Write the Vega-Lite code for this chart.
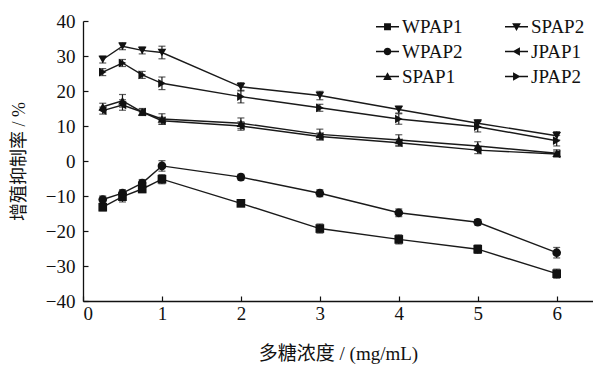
{
  "$schema": "https://vega.github.io/schema/vega-lite/v6.json",
  "width": 510,
  "height": 280,
  "autosize": {"type": "none"},
  "padding": {"left": 83, "top": 21, "right": 0, "bottom": 64},
  "background": "white",
  "config": {
    "view": {"stroke": null},
    "axis": {
      "grid": false,
      "domainColor": "#111",
      "domainWidth": 1.3,
      "tickColor": "#111",
      "tickWidth": 1.2,
      "tickSize": -5,
      "labelFont": "Liberation Serif",
      "labelFontSize": 19,
      "labelColor": "#111",
      "titleFont": "Liberation Serif, Noto Sans CJK SC",
      "titleFontWeight": "normal",
      "titleColor": "#111"
    }
  },
  "datasets": {
    "d": [
      {"x": 0.25, "series": "WPAP1", "y": -13.2, "err": 1.0},
      {"x": 0.5, "series": "WPAP1", "y": -10.2, "err": 1.5},
      {"x": 0.75, "series": "WPAP1", "y": -8.0, "err": 1.0},
      {"x": 1, "series": "WPAP1", "y": -5.2, "err": 1.3},
      {"x": 2, "series": "WPAP1", "y": -12.1, "err": 0.8},
      {"x": 3, "series": "WPAP1", "y": -19.3, "err": 1.3},
      {"x": 4, "series": "WPAP1", "y": -22.4, "err": 1.3},
      {"x": 5, "series": "WPAP1", "y": -25.2, "err": 1.2},
      {"x": 6, "series": "WPAP1", "y": -32.2, "err": 1.3},
      {"x": 0.25, "series": "WPAP2", "y": -11.0, "err": 1.0},
      {"x": 0.5, "series": "WPAP2", "y": -9.2, "err": 1.0},
      {"x": 0.75, "series": "WPAP2", "y": -6.3, "err": 1.0},
      {"x": 1, "series": "WPAP2", "y": -1.4, "err": 1.5},
      {"x": 2, "series": "WPAP2", "y": -4.6, "err": 0.8},
      {"x": 3, "series": "WPAP2", "y": -9.2, "err": 1.0},
      {"x": 4, "series": "WPAP2", "y": -14.8, "err": 1.1},
      {"x": 5, "series": "WPAP2", "y": -17.5, "err": 0.8},
      {"x": 6, "series": "WPAP2", "y": -26.2, "err": 1.5},
      {"x": 0.25, "series": "SPAP1", "y": 15.5, "err": 1.0},
      {"x": 0.5, "series": "SPAP1", "y": 17.2, "err": 1.8},
      {"x": 0.75, "series": "SPAP1", "y": 14.0, "err": 1.0},
      {"x": 1, "series": "SPAP1", "y": 12.0, "err": 1.5},
      {"x": 2, "series": "SPAP1", "y": 10.8, "err": 1.5},
      {"x": 3, "series": "SPAP1", "y": 7.6, "err": 1.5},
      {"x": 4, "series": "SPAP1", "y": 6.0, "err": 1.5},
      {"x": 5, "series": "SPAP1", "y": 4.3, "err": 1.2},
      {"x": 6, "series": "SPAP1", "y": 2.2, "err": 1.0},
      {"x": 0.25, "series": "JPAP1", "y": 14.4, "err": 1.0},
      {"x": 0.5, "series": "JPAP1", "y": 16.0, "err": 1.5},
      {"x": 0.75, "series": "JPAP1", "y": 14.0, "err": 0.8},
      {"x": 1, "series": "JPAP1", "y": 11.5, "err": 1.0},
      {"x": 2, "series": "JPAP1", "y": 10.0, "err": 1.2},
      {"x": 3, "series": "JPAP1", "y": 7.0, "err": 1.0},
      {"x": 4, "series": "JPAP1", "y": 5.2, "err": 1.0},
      {"x": 5, "series": "JPAP1", "y": 3.1, "err": 1.0},
      {"x": 6, "series": "JPAP1", "y": 2.0, "err": 0.8},
      {"x": 0.25, "series": "SPAP2", "y": 29.0, "err": 1.0},
      {"x": 0.5, "series": "SPAP2", "y": 32.8, "err": 1.0},
      {"x": 0.75, "series": "SPAP2", "y": 31.6, "err": 1.0},
      {"x": 1, "series": "SPAP2", "y": 31.0, "err": 1.8},
      {"x": 2, "series": "SPAP2", "y": 21.2, "err": 1.2},
      {"x": 3, "series": "SPAP2", "y": 18.7, "err": 1.2},
      {"x": 4, "series": "SPAP2", "y": 14.7, "err": 1.0},
      {"x": 5, "series": "SPAP2", "y": 10.8, "err": 1.0},
      {"x": 6, "series": "SPAP2", "y": 7.2, "err": 1.2},
      {"x": 0.25, "series": "JPAP2", "y": 25.4, "err": 1.0},
      {"x": 0.5, "series": "JPAP2", "y": 28.0, "err": 1.0},
      {"x": 0.75, "series": "JPAP2", "y": 24.6, "err": 1.0},
      {"x": 1, "series": "JPAP2", "y": 22.2, "err": 1.8},
      {"x": 2, "series": "JPAP2", "y": 18.4, "err": 1.8},
      {"x": 3, "series": "JPAP2", "y": 15.2, "err": 1.0},
      {"x": 4, "series": "JPAP2", "y": 12.0, "err": 1.5},
      {"x": 5, "series": "JPAP2", "y": 9.8, "err": 1.5},
      {"x": 6, "series": "JPAP2", "y": 5.8, "err": 1.5}
    ]
  },
  "data": {"name": "d"},
  "encoding": {
    "x": {
      "field": "x", "type": "quantitative",
      "scale": {"domain": [0, 6.46], "nice": false, "zero": false},
      "axis": {"values": [0, 1, 2, 3, 4, 5, 6], "title": "多糖浓度 / (mg/mL)", "titleFontSize": 19, "titlePadding": 21, "labelPadding": 8}
    },
    "y": {
      "field": "y", "type": "quantitative",
      "scale": {"domain": [-40, 40], "nice": false},
      "axis": {"values": [-40, -30, -20, -10, 0, 10, 20, 30, 40], "title": "增殖抑制率 / %", "titleFontSize": 18, "titlePadding": 17, "labelPadding": 13}
    }
  },
  "layer": [
    {
      "mark": {"type": "line", "color": "#1a1a1a", "strokeWidth": 1.4},
      "encoding": {"detail": {"field": "series"}}
    },
    {
      "mark": {"type": "errorbar", "color": "#1a1a1a", "thickness": 1.2, "ticks": {"size": 7, "thickness": 1.2, "color": "#1a1a1a"}},
      "encoding": {"yError": {"field": "err"}, "detail": {"field": "series"}}
    },
    {
      "mark": {"type": "point", "filled": true, "color": "#111", "opacity": 1, "size": 75},
      "encoding": {
        "shape": {
          "field": "series",
          "scale": {
            "domain": ["WPAP1", "WPAP2", "SPAP1", "SPAP2", "JPAP1", "JPAP2"],
            "range": ["square", "circle", "triangle-up", "triangle-down", "triangle-left", "triangle-right"]
          },
          "legend": null
        }
      }
    },
    {
      "transform": [{"filter": "false"}],
      "mark": {"type": "point", "filled": true, "color": "#111", "opacity": 1},
      "encoding": {
        "shape": {
          "field": "series",
          "scale": {
            "domain": ["WPAP1", "WPAP2", "SPAP1", "SPAP2", "JPAP1", "JPAP2"],
            "range": [
              "M-1,-0.055H1V0.055H-1ZM-0.3,-0.3H0.3V0.3H-0.3Z",
              "M-1,-0.055H1V0.055H-1ZM0.33,0A0.33,0.33 0 1,1 -0.33,0A0.33,0.33 0 1,1 0.33,0Z",
              "M-1,-0.055H1V0.055H-1ZM0,-0.36L0.38,0.3H-0.38Z",
              "M-1,-0.055H1V0.055H-1ZM0,0.36L-0.38,-0.3H0.38Z",
              "M-1,-0.055H1V0.055H-1ZM-0.36,0L0.3,-0.38V0.38Z",
              "M-1,-0.055H1V0.055H-1ZM0.36,0L-0.3,0.38V-0.38Z"
            ]
          },
          "legend": {
            "title": null,
            "orient": "none",
            "legendX": 293,
            "legendY": -6,
            "columns": 2,
            "columnPadding": 42,
            "rowPadding": 3,
            "symbolSize": 529,
            "symbolOpacity": 1,
            "symbolFillColor": "#111",
            "symbolStrokeWidth": 0,
            "labelFont": "Liberation Serif",
            "labelFontSize": 19,
            "labelColor": "#111",
            "labelOffset": 3,
            "encode": {
              "symbols": {
                "update": {
                  "fill": {"value": "#111"},
                  "opacity": {"value": 1}
                }
              }
            }
          }
        }
      }
    }
  ],
  "resolve": {"scale": {"shape": "independent"}, "legend": {"shape": "independent"}}
}
